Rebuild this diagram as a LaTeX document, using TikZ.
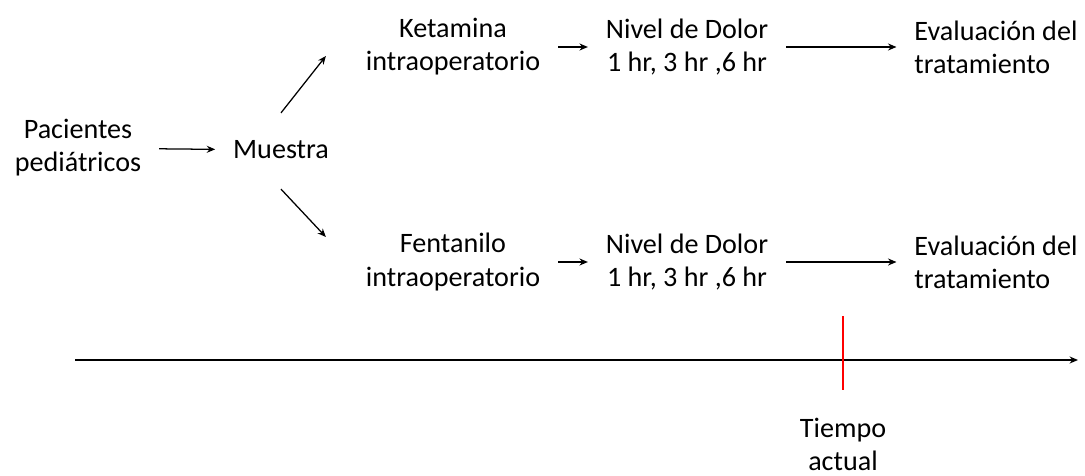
\documentclass[tikz,border=0pt]{standalone}
\usepackage{fontspec}
\setmainfont{Carlito}
\usetikzlibrary{arrows.meta}
\begin{document}
\begin{tikzpicture}[x=0.025cm,y=-0.025cm,>={Stealth[length=6pt,width=5pt]},
	txt/.style={align=center,inner sep=0pt,outer sep=0.45cm,font=\fontsize{20}{23.5}\selectfont},
	flow/.style={->,line width=0.9pt}]
	\useasboundingbox (0,0) rectangle (1085,475);
	
	% szovegek
	\node[txt] (pac) at (78,148) {Pacientes\\pediátricos};
	\node[txt] (mue) at (281,150) {Muestra};
	\node[txt] (ket) at (453,47) {Ketamina\\intraoperatorio};
	\node[txt] (fen) at (453,262) {Fentanilo\\intraoperatorio};
	\node[txt] (niv1) at (687,47) {Nivel de Dolor\\1 hr, 3 hr ,6 hr};
	\node[txt] (niv2) at (687,262) {Nivel de Dolor\\1 hr, 3 hr ,6 hr};
	\node[txt,align=left] (eva1) at (996,47) {Evaluación del\\tratamiento};
	\node[txt,align=left] (eva2) at (996,262) {Evaluación del\\tratamiento};
	\node[txt] (tie) at (843,444) {Tiempo\\actual};
	
	% nyilak
	\draw[flow] (pac) -- (mue);
	\draw[flow] ([yshift=0.25cm]mue.north) -- ([xshift=-0.55cm,yshift=-0.225cm]ket.west);
	\draw[flow] ([yshift=-0.3cm]mue.south) -- ([xshift=-0.55cm,yshift=0.625cm]fen.west);
	\draw[flow] (ket) -- (niv1);
	\draw[flow] (fen) -- (niv2);
	\draw[flow] (niv1) -- (eva1);
	\draw[flow] (niv2) -- (eva2);
	
	% idotengely
	\coordinate (t0) at (75,360);
	\coordinate (t1) at (1078,360);
	\draw[flow] (t0) -- (t1);
	\draw[red,line width=2pt] (tie.north |- 0,316) -- ([yshift=0.25cm]tie.north);
\end{tikzpicture}
\end{document}
